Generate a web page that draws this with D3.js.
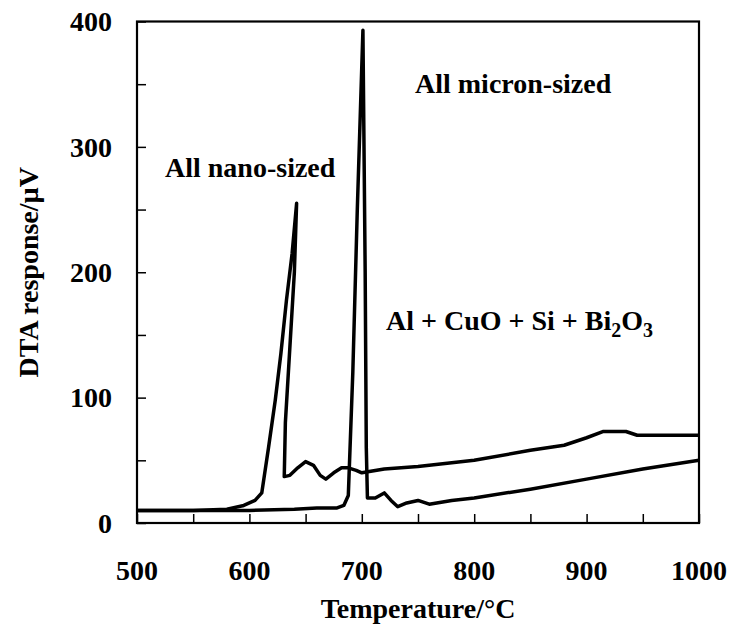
<!DOCTYPE html>
<html>
<head>
<meta charset="utf-8">
<script src="https://cdn.jsdelivr.net/npm/d3@7"></script>
<style>
  body { margin: 0; background: #fff; }
  text { font-family: "Liberation Serif", "Times New Roman", serif; font-weight: bold; fill: #000; }
</style>
</head>
<body>
<div id="chart"></div>
<script>
// DTA curves, temperature (C) vs response (uV)
var nanoTemp  = [500, 550, 580, 595, 605, 611, 617, 623, 628, 633, 638, 642, 640, 636, 632, 631, 636, 643, 650, 657, 663, 668, 675, 682, 688, 695, 700, 720, 750, 800, 850, 880, 900, 915, 935, 945, 960, 1000];
var nanoResp  = [10, 10, 11, 14, 18, 24, 60, 98, 135, 178, 215, 255, 200, 140, 80, 37, 38, 44, 49, 46, 38, 35, 40, 44, 44, 42, 40, 43, 45, 50, 58, 62, 68, 73, 73, 70, 70, 70];

var micronTemp = [500, 550, 600, 640, 660, 670, 678, 684, 688, 692, 696, 701, 703, 704, 705, 712, 720, 726, 732, 740, 750, 760, 780, 800, 850, 900, 950, 1000];
var micronResp = [10, 10, 10, 11, 12, 12, 12, 14, 22, 120, 250, 393, 200, 60, 20, 20, 24, 18, 13, 16, 18, 15, 18, 20, 27, 35, 43, 50];

var xTickLabels = [500, 600, 700, 800, 900, 1000];
var yTickLabels = [0, 100, 200, 300, 400];

var W = 734, H = 629;
var margin = {left: 137, top: 21.5, right: 35, bottom: 106};
var width = W - margin.left - margin.right;
var height = H - margin.top - margin.bottom;

var svg = d3.select('#chart').append('svg')
  .attr('width', W)
  .attr('height', H);

var g = svg.append('g').attr('transform', 'translate(' + margin.left + ',' + margin.top + ')');

var x = d3.scaleLinear().domain([500, 1000]).range([0, width]);
var y = d3.scaleLinear().domain([0, 400]).range([height, 0]);

// inward ticks every 50, labels every 100
var xAxis = d3.axisTop(x).tickValues(d3.range(500, 1001, 50)).tickSize(9).tickFormat('');
var yAxis = d3.axisRight(y).tickValues(d3.range(0, 401, 50)).tickSize(9).tickFormat('');

g.append('g').attr('transform', 'translate(0,' + height + ')').call(xAxis)
  .call(function(s){ s.select('.domain').remove(); s.selectAll('line').attr('stroke-width', 1.5); });
g.append('g').call(yAxis)
  .call(function(s){ s.select('.domain').remove(); s.selectAll('line').attr('stroke-width', 1.5); });

g.selectAll('.xlab').data(xTickLabels).enter().append('text')
  .attr('x', function(d){ return x(d); })
  .attr('y', height + 57)
  .attr('text-anchor', 'middle')
  .style('font-size', '28px')
  .text(function(d){ return d; });

g.selectAll('.ylab').data(yTickLabels).enter().append('text')
  .attr('x', -25)
  .attr('y', function(d){ return y(d); })
  .attr('dy', '0.35em')
  .attr('text-anchor', 'end')
  .style('font-size', '28px')
  .text(function(d){ return d; });

var line = d3.line()
  .x(function(d){ return x(d[0]); })
  .y(function(d){ return y(d[1]); });

var series = [d3.zip(nanoTemp, nanoResp), d3.zip(micronTemp, micronResp)];

g.selectAll('.series').data(series).enter().append('path')
  .attr('fill', 'none')
  .attr('stroke', '#000')
  .attr('stroke-width', 3.5)
  .attr('stroke-linejoin', 'round')
  .attr('d', line);

// frame
g.append('rect')
  .attr('width', width)
  .attr('height', height)
  .attr('fill', 'none')
  .attr('stroke', '#000')
  .attr('stroke-width', 2.2);

// annotations
g.append('text').attr('x', 415 - margin.left).attr('y', 93 - margin.top)
  .style('font-size', '28px').text('All micron-sized');
g.append('text').attr('x', 165 - margin.left).attr('y', 177 - margin.top)
  .style('font-size', '28px').text('All nano-sized');

var comp = g.append('text').attr('x', 386 - margin.left).attr('y', 330 - margin.top)
  .style('font-size', '28px');
comp.append('tspan').text('Al + CuO + Si + Bi');
comp.append('tspan').attr('dy', 7).style('font-size', '20px').text('2');
comp.append('tspan').attr('dy', -7).text('O');
comp.append('tspan').attr('dy', 7).style('font-size', '20px').text('3');

// axis titles
svg.append('text')
  .attr('x', margin.left + width / 2)
  .attr('y', 618)
  .attr('text-anchor', 'middle')
  .style('font-size', '28px')
  .text('Temperature/°C');

svg.append('text')
  .attr('transform', 'translate(38,' + (margin.top + height / 2) + ') rotate(-90)')
  .attr('text-anchor', 'middle')
  .style('font-size', '28px')
  .text('DTA response/µV');
</script>
</body>
</html>
